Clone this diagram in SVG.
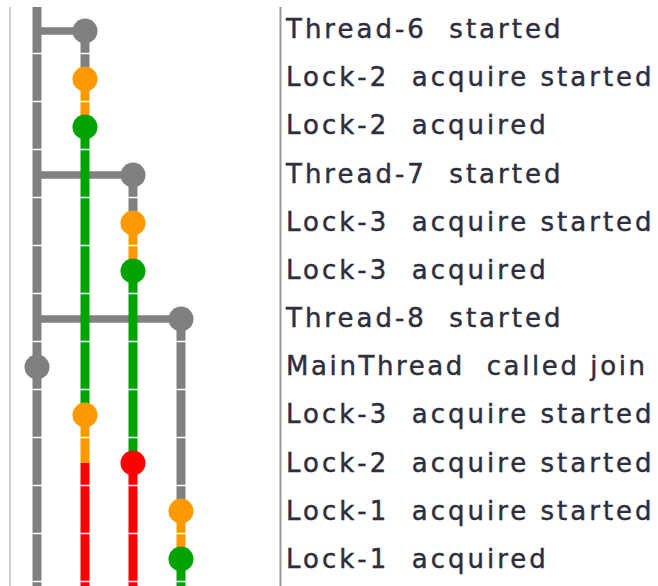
<svg xmlns="http://www.w3.org/2000/svg" width="658" height="586" viewBox="0 0 658 586" xml:space="preserve">
<style>
.lane{stroke-width:9;fill:none}
.br{stroke-width:7.5;fill:none;stroke:#808080}
.g{stroke:#808080}.o{stroke:#ff9900}.n{stroke:#00a400}.r{stroke:#ff0000}
.cg{fill:#808080}.co{fill:#ff9900}.cn{fill:#00a400}.cr{fill:#ff0000}
.tick{stroke:#ffffff;stroke-width:1.5}
text{font-family:"DejaVu Sans",sans-serif;font-size:26px;letter-spacing:3px;fill:#2e2e3c;stroke:#2e2e3c;stroke-width:0.45;white-space:pre}
</style>
<rect width="658" height="586" fill="#ffffff"/>
<line x1="10" y1="7" x2="10" y2="586" stroke="#cccccc" stroke-width="2"/>
<line x1="280.5" y1="7" x2="280.5" y2="586" stroke="#999999" stroke-width="2"/>
<g id="connectors">
<line class="lane g" x1="37" y1="7" x2="37" y2="586"/>
<line class="br" x1="37" y1="31" x2="85" y2="31"/>
<line class="br" x1="37" y1="175" x2="133" y2="175"/>
<line class="br" x1="37" y1="319" x2="181" y2="319"/>
<line class="lane g" x1="85" y1="31" x2="85" y2="79"/>
<line class="lane o" x1="85" y1="79" x2="85" y2="127"/>
<line class="lane n" x1="85" y1="127" x2="85" y2="415"/>
<line class="lane o" x1="85" y1="415" x2="85" y2="463"/>
<line class="lane r" x1="85" y1="463" x2="85" y2="586"/>
<line class="lane g" x1="133" y1="175" x2="133" y2="223"/>
<line class="lane o" x1="133" y1="223" x2="133" y2="271"/>
<line class="lane n" x1="133" y1="271" x2="133" y2="463"/>
<line class="lane r" x1="133" y1="463" x2="133" y2="586"/>
<line class="lane g" x1="181" y1="319" x2="181" y2="511"/>
<line class="lane o" x1="181" y1="511" x2="181" y2="559"/>
<line class="lane n" x1="181" y1="559" x2="181" y2="586"/>
<g class="tick">
<line x1="28" y1="53.5" x2="192" y2="53.5"/>
<line x1="28" y1="101.5" x2="192" y2="101.5"/>
<line x1="28" y1="149.5" x2="192" y2="149.5"/>
<line x1="28" y1="197.5" x2="192" y2="197.5"/>
<line x1="28" y1="245.5" x2="192" y2="245.5"/>
<line x1="28" y1="293.5" x2="192" y2="293.5"/>
<line x1="28" y1="341.5" x2="192" y2="341.5"/>
<line x1="28" y1="389.5" x2="192" y2="389.5"/>
<line x1="28" y1="437.5" x2="192" y2="437.5"/>
<line x1="28" y1="485.5" x2="192" y2="485.5"/>
<line x1="28" y1="533.5" x2="192" y2="533.5"/>
<line x1="28" y1="581.5" x2="192" y2="581.5"/>
</g>
</g>
<g id="row0"><circle class="cg" cx="85" cy="31" r="12.5"/><text x="286" y="38">Thread-6  started</text></g>
<g id="row1"><circle class="co" cx="85" cy="79" r="12.5"/><text x="286" y="86.2">Lock-2  acquire started</text></g>
<g id="row2"><circle class="cn" cx="85" cy="127" r="12.5"/><text x="286" y="134.4">Lock-2  acquired</text></g>
<g id="row3"><circle class="cg" cx="133" cy="175" r="12.5"/><text x="286" y="182.5">Thread-7  started</text></g>
<g id="row4"><circle class="co" cx="133" cy="223" r="12.5"/><text x="286" y="230.7">Lock-3  acquire started</text></g>
<g id="row5"><circle class="cn" cx="133" cy="271" r="12.5"/><text x="286" y="278.9">Lock-3  acquired</text></g>
<g id="row6"><circle class="cg" cx="181" cy="319" r="12.5"/><text x="286" y="327.1">Thread-8  started</text></g>
<g id="row7"><circle class="cg" cx="37" cy="367" r="12.5"/><text x="286" y="375.3" style="letter-spacing:2.6px">MainThread  called join</text></g>
<g id="row8"><circle class="co" cx="85" cy="415" r="12.5"/><text x="286" y="423.4">Lock-3  acquire started</text></g>
<g id="row9"><circle class="cr" cx="133" cy="463" r="12.5"/><text x="286" y="471.6">Lock-2  acquire started</text></g>
<g id="row10"><circle class="co" cx="181" cy="511" r="12.5"/><text x="286" y="519.8">Lock-1  acquire started</text></g>
<g id="row11"><circle class="cn" cx="181" cy="559" r="12.5"/><text x="286" y="568">Lock-1  acquired</text></g>
</svg>
